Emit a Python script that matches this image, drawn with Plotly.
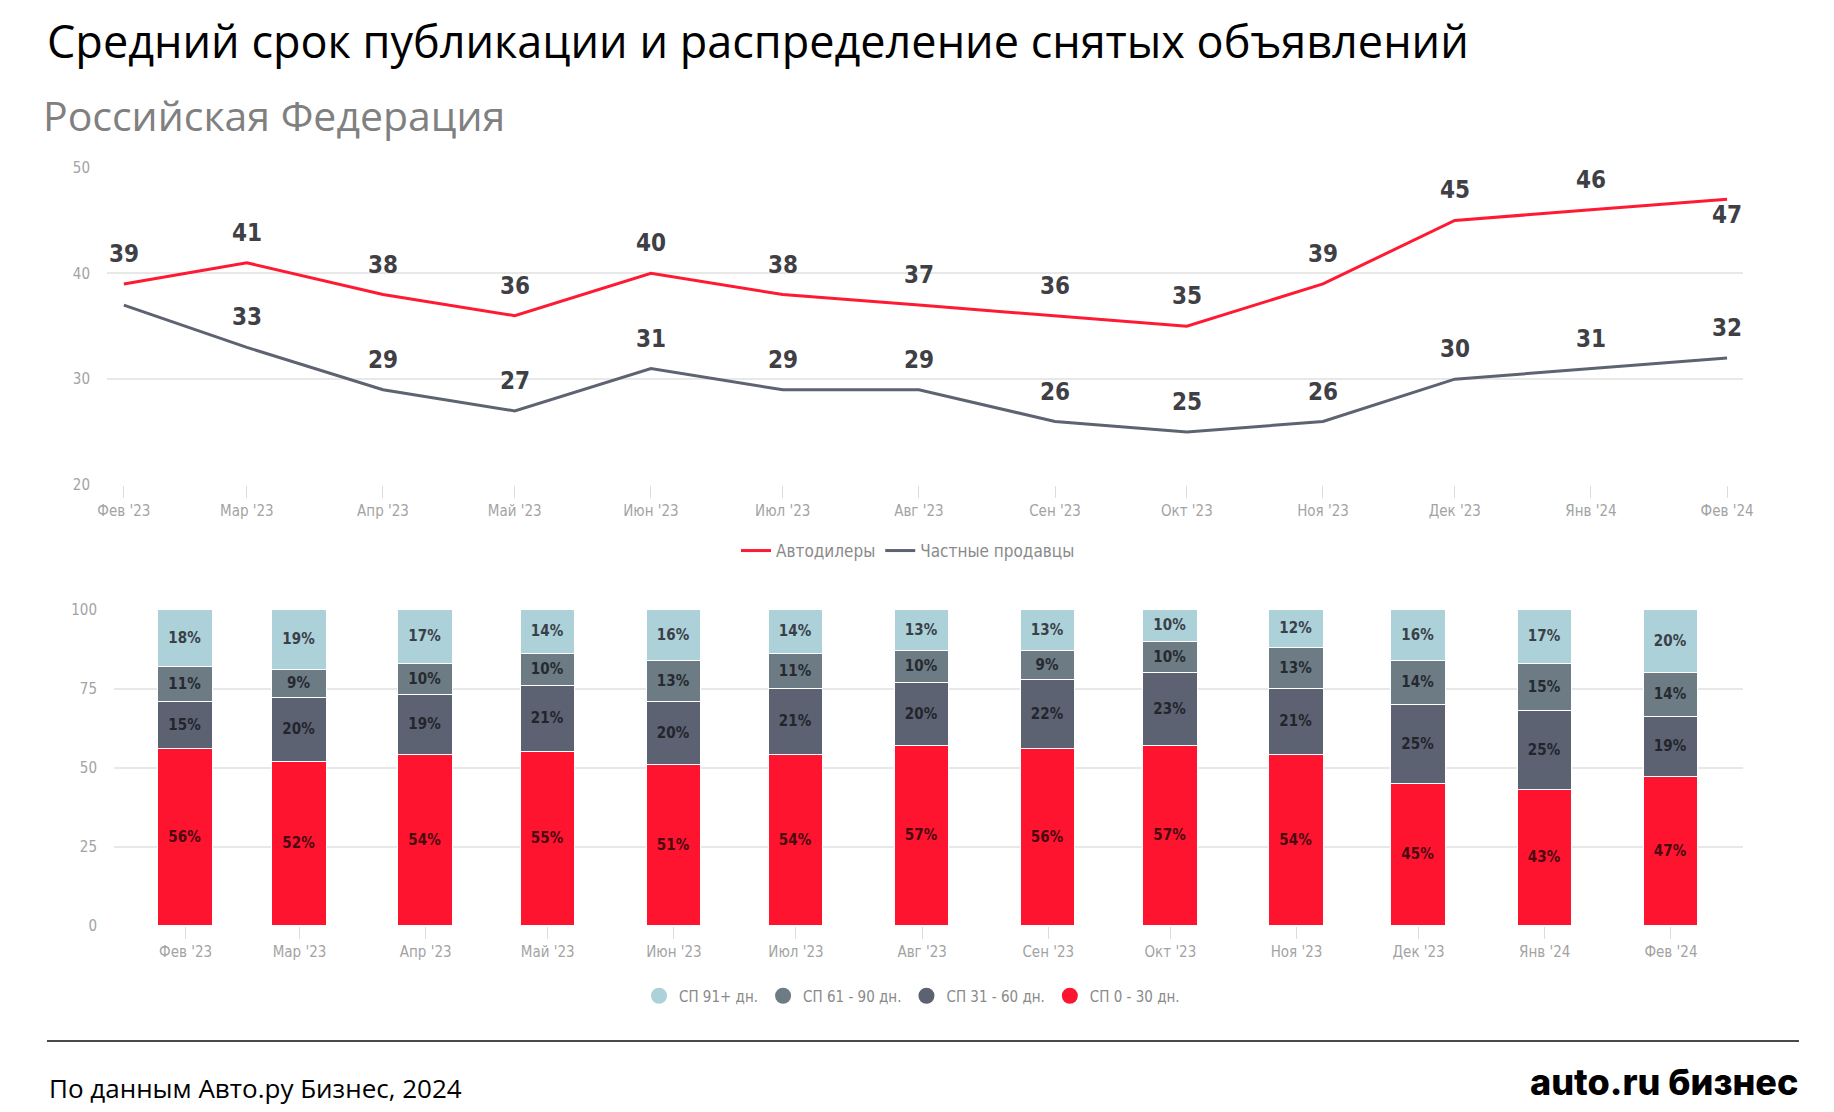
import plotly.graph_objects as go

# ---------------- data ----------------
months = ["2023-02-01", "2023-03-01", "2023-04-01", "2023-05-01", "2023-06-01",
          "2023-07-01", "2023-08-01", "2023-09-01", "2023-10-01", "2023-11-01",
          "2023-12-01", "2024-01-01", "2024-02-01"]
month_labels = ["Фев '23", "Мар '23", "Апр '23", "Май '23", "Июн '23", "Июл '23",
                "Авг '23", "Сен '23", "Окт '23", "Ноя '23", "Дек '23", "Янв '24", "Фев '24"]

dealers = [39, 41, 38, 36, 40, 38, 37, 36, 35, 39, 45, 46, 47]
private = [37, 33, 29, 27, 31, 29, 29, 26, 25, 26, 30, 31, 32]
dealer_label_pos = ["top"] * 12 + ["bottom"]
private_label_show = [False] + [True] * 12

sp_0_30 = [56, 52, 54, 55, 51, 54, 57, 56, 57, 54, 45, 43, 47]
sp_31_60 = [15, 20, 19, 21, 20, 21, 20, 22, 23, 21, 25, 25, 19]
sp_61_90 = [11, 9, 10, 10, 13, 11, 10, 9, 10, 13, 14, 15, 14]
sp_91 = [18, 19, 17, 14, 16, 14, 13, 13, 10, 12, 16, 17, 20]

line_y_ticks = [20, 30, 40, 50]
bar_y_ticks = [0, 25, 50, 75, 100]

# ---------------- styles ----------------
# the page body has an 8px default margin: size the figure to fill the rest of the window
OFF = 8
W, H = 1834 - OFF, 1112 - OFF
NARROW = "Liberation Sans Narrow, DejaVu Sans Condensed, Roboto, Arial, sans-serif"
MAIN = "Open Sans, Noto Sans, sans-serif"
RED = "#ff1a33"
GRAY_LINE = "#5d6370"
C_91 = "#acd1d9"
C_61 = "#6c7b84"
C_31 = "#5c6272"
C_0 = "#ff1430"
TICK_COL = "#a3a3a3"
GRID = "#e8e8e8"

def px(xp):
    return (xp - OFF) / W

def py(yp):
    return 1 - (yp - OFF) / H

fig = go.Figure()

# ---------------- line chart ----------------
fig.add_trace(go.Scatter(x=months, y=dealers, mode="lines", name="Автодилеры",
                         line=dict(color=RED, width=3), legend="legend",
                         xaxis="x", yaxis="y", hoverinfo="skip"))
fig.add_trace(go.Scatter(x=months, y=private, mode="lines", name="Частные продавцы",
                         line=dict(color=GRAY_LINE, width=3), legend="legend",
                         xaxis="x", yaxis="y", hoverinfo="skip"))

label_font = dict(family=NARROW, size=24, color="#3f4046", weight="bold")
annotations = []
for m, v, pos in zip(months, dealers, dealer_label_pos):
    annotations.append(dict(x=m, y=v, xref="x", yref="y", text=str(v), showarrow=False,
                            yshift=30 if pos == "top" else -16, font=label_font))
for m, v, show in zip(months, private, private_label_show):
    if show:
        annotations.append(dict(x=m, y=v, xref="x", yref="y", text=str(v), showarrow=False,
                                yshift=30, font=label_font))

# ---------------- bar chart ----------------
bar_width = 13.35 * 86400000
stack = [
    ("СП 0 - 30 дн.", sp_0_30, C_0, "#4a0a10"),
    ("СП 31 - 60 дн.", sp_31_60, C_31, "#23252c"),
    ("СП 61 - 90 дн.", sp_61_90, C_61, "#262a30"),
    ("СП 91+ дн.", sp_91, C_91, "#3a4048"),
]
for name, vals, col, tcol in stack:
    fig.add_trace(go.Bar(x=months, y=vals, name=name, width=bar_width,
                         marker=dict(color=col, line=dict(color="white", width=1.5)),
                         text=[f"{v}%" for v in vals], textposition="inside",
                         insidetextanchor="middle", textangle=0, constraintext="none",
                         textfont=dict(family=NARROW, size=15, color=tcol, weight="bold"),
                         showlegend=False, legend="legend2",
                         xaxis="x2", yaxis="y2", hoverinfo="skip"))

# legend entries with circle symbols (order as in reference)
for name, vals, col, tcol in reversed(stack):
    fig.add_trace(go.Scatter(x=[None], y=[None], mode="markers", name=name,
                             marker=dict(color=col, size=16, symbol="circle"),
                             legend="legend2", xaxis="x2", yaxis="y2"))

# ---------------- titles & footer ----------------
annotations += [
    dict(x=px(46), y=py(40), xref="paper", yref="paper", xanchor="left", yanchor="middle",
         text="Средний срок публикации и распределение снятых объявлений", showarrow=False,
         font=dict(family=MAIN, size=45, color="#000000"), borderpad=0),
    dict(x=px(41), y=py(115), xref="paper", yref="paper", xanchor="left", yanchor="middle",
         text="Российская Федерация", showarrow=False,
         font=dict(family=MAIN, size=41, color="#808080")),
    dict(x=px(47), y=py(1088), xref="paper", yref="paper", xanchor="left", yanchor="middle",
         text="По данным Авто.ру Бизнес, 2024", showarrow=False,
         font=dict(family=MAIN, size=26, color="#000000")),
    dict(x=px(1800), y=py(1082), xref="paper", yref="paper", xanchor="right", yanchor="middle",
         text="auto.ru бизнес", showarrow=False,
         font=dict(family="Inter, Lato, sans-serif", size=36, color="#000000", weight=800)),
]

axis_common = dict(type="date", tickmode="array", tickvals=months, ticktext=month_labels,
                   ticks="outside", ticklen=12, tickcolor="#dcdcdc", tickwidth=1,
                   showgrid=False, zeroline=False, showline=False, automargin=False,
                   tickfont=dict(family=NARROW, size=15, color=TICK_COL), fixedrange=True)
yaxis_common = dict(showgrid=True, gridcolor=GRID, gridwidth=1.5, zeroline=False,
                    showline=False, ticks="", ticklabelstandoff=16, automargin=False,
                    tickfont=dict(family=NARROW, size=15, color=TICK_COL), fixedrange=True)

fig.update_layout(
    width=W, height=H,
    margin=dict(l=0, r=0, t=0, b=0, pad=0, autoexpand=False),
    paper_bgcolor="white", plot_bgcolor="white",
    barmode="stack", bargap=0,
    showlegend=True,
    xaxis=dict(domain=[px(107), px(1743)], range=["2023-01-28 04:00", "2024-02-04 15:00"],
               anchor="y", **axis_common),
    yaxis=dict(domain=[py(485), py(167.5)], range=[20, 50], tickvals=line_y_ticks,
               anchor="x", **yaxis_common),
    xaxis2=dict(domain=[px(114), px(1743)], range=["2023-01-14 10:00", "2024-02-18 17:00"],
                anchor="y2", **axis_common),
    yaxis2=dict(domain=[py(926), py(610)], range=[0, 100], tickvals=bar_y_ticks,
                anchor="x2", **yaxis_common),
    legend=dict(orientation="h", x=px(908), y=py(551), xanchor="center", yanchor="middle",
                traceorder="normal",
                font=dict(family=NARROW, size=17, color="#8a8a8a"), bgcolor="rgba(0,0,0,0)"),
    legend2=dict(orientation="h", x=px(912), y=py(996), xanchor="center", yanchor="middle",
                 traceorder="normal",
                 font=dict(family=NARROW, size=15, color="#8a8a8a"), bgcolor="rgba(0,0,0,0)"),
    annotations=annotations,
    shapes=[dict(type="line", xref="paper", yref="paper", x0=px(47), x1=px(1799),
                 y0=py(1041), y1=py(1041), line=dict(color="#4a4a4a", width=2))],
)

fig.write_html("out.html")
